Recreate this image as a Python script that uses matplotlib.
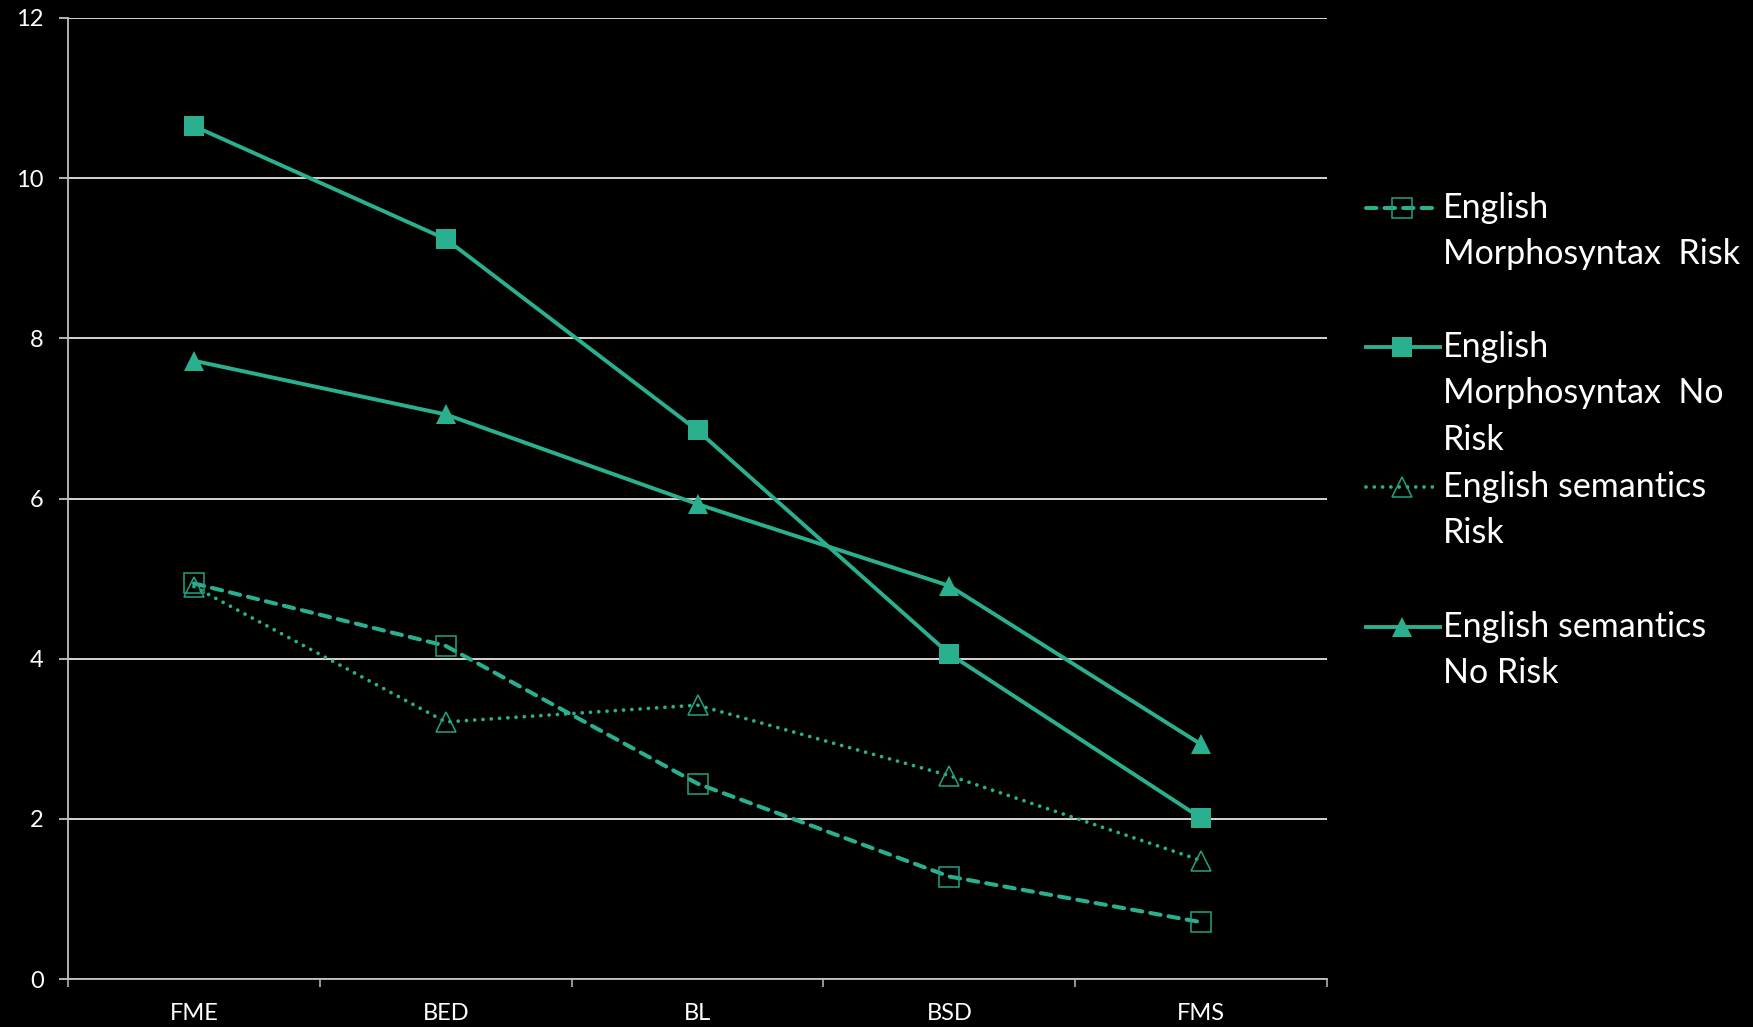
import matplotlib.pyplot as plt
from matplotlib.lines import Line2D


# =========================================================
# Data
# =========================================================
CATEGORIES = ["FME", "BED", "BL", "BSD", "FMS"]

MORPH_RISK    = [4.94, 4.16, 2.44, 1.28, 0.71]
MORPH_NO_RISK = [10.65, 9.24, 6.85, 4.06, 2.01]
SEM_RISK      = [4.90, 3.21, 3.42, 2.54, 1.48]
SEM_NO_RISK   = [7.72, 7.05, 5.93, 4.91, 2.93]

LABELS = [
    ["English", "Morphosyntax  Risk"],
    ["English", "Morphosyntax  No", "Risk"],
    ["English semantics", "Risk"],
    ["English semantics", "No Risk"],
]

# =========================================================
# Style
# =========================================================
TEAL      = "#2AB08F"
TEAL_EDGE = "#22A283"
GRID      = "#E6E6E6"
SPINE     = "#BFBFBF"
FONT      = "Lato"

plt.rcParams["font.family"] = [FONT, "DejaVu Sans"]

fig = plt.figure(figsize=(17.53, 10.27), dpi=100, facecolor="black")
ax = fig.add_axes([0.0388, 0.0467, 0.7182, 0.9358], facecolor="black")

x = range(len(CATEGORIES))

# series styles: (values, line kwargs)
series = [
    (MORPH_RISK, dict(ls=(0, (2.6, 2.0)), lw=2.9, marker="s", ms=13.7,
                      mfc="none", mec=TEAL_EDGE, mew=1.1, dash_capstyle="round")),
    (MORPH_NO_RISK, dict(ls="-", lw=2.8, marker="s", ms=14.4,
                         mfc=TEAL, mec=TEAL, mew=0)),
    (SEM_RISK, dict(ls=(0, (0.01, 2.2)), lw=2.7, marker="^", ms=13.7,
                    mfc="none", mec=TEAL_EDGE, mew=1.1, dash_capstyle="round")),
    (SEM_NO_RISK, dict(ls="-", lw=2.8, marker="^", ms=14.4,
                       mfc=TEAL, mec=TEAL, mew=0)),
]

for vals, kw in series:
    ax.plot(x, vals, color=TEAL, zorder=3, **kw)

# ------------------------------
# Axes
# ------------------------------
ax.set_xlim(-0.5, len(CATEGORIES) - 0.5)
ax.set_ylim(0, 12)
ax.set_yticks(range(0, 13, 2))
ax.grid(axis="y", color=GRID, lw=1.3, zorder=1)
ax.set_axisbelow(True)

ax.set_xticks([i - 0.5 for i in range(len(CATEGORIES) + 1)])
ax.set_xticklabels([])
ax.set_xticks(list(x), minor=True)
ax.set_xticklabels(CATEGORIES, minor=True)
ax.tick_params(axis="x", which="major", length=6, width=1.1, color=SPINE)
ax.tick_params(axis="x", which="minor", length=0, pad=17, labelsize=17, labelcolor="white")
ax.tick_params(axis="y", length=6.5, width=1.1, color=GRID, pad=11, labelsize=17,
               labelcolor="white")

for side in ["top", "right"]:
    ax.spines[side].set_visible(False)
for side in ["left", "bottom"]:
    ax.spines[side].set_color(SPINE)
    ax.spines[side].set_linewidth(1.3)

# ------------------------------
# Legend (handle beside first line of each wrapped label)
# ------------------------------
W, H = 1753.0, 1027.0
entry_y = [208, 347, 487, 627]
line_gap = 46.4
for (vals, kw), y0, lines in zip(series, entry_y, LABELS):
    yf = 1 - y0 / H
    h = Line2D([1366 / W, 1440 / W], [yf, yf], transform=fig.transFigure,
               color=TEAL, **{k: v for k, v in kw.items() if k != "marker"})
    fig.add_artist(h)
    m = Line2D([1402 / W], [yf], transform=fig.transFigure, color=TEAL, ls="none",
               marker=kw["marker"], ms=kw["ms"], mfc=kw["mfc"], mec=kw["mec"], mew=kw["mew"])
    fig.add_artist(m)
    for j, txt in enumerate(lines):
        fig.text(1443 / W, 1 - (y0 + j * line_gap) / H, txt, color="white",
                 fontsize=24.5, va="center", ha="left")

plt.savefig("out.png", dpi=100, facecolor="black")
plt.close()
